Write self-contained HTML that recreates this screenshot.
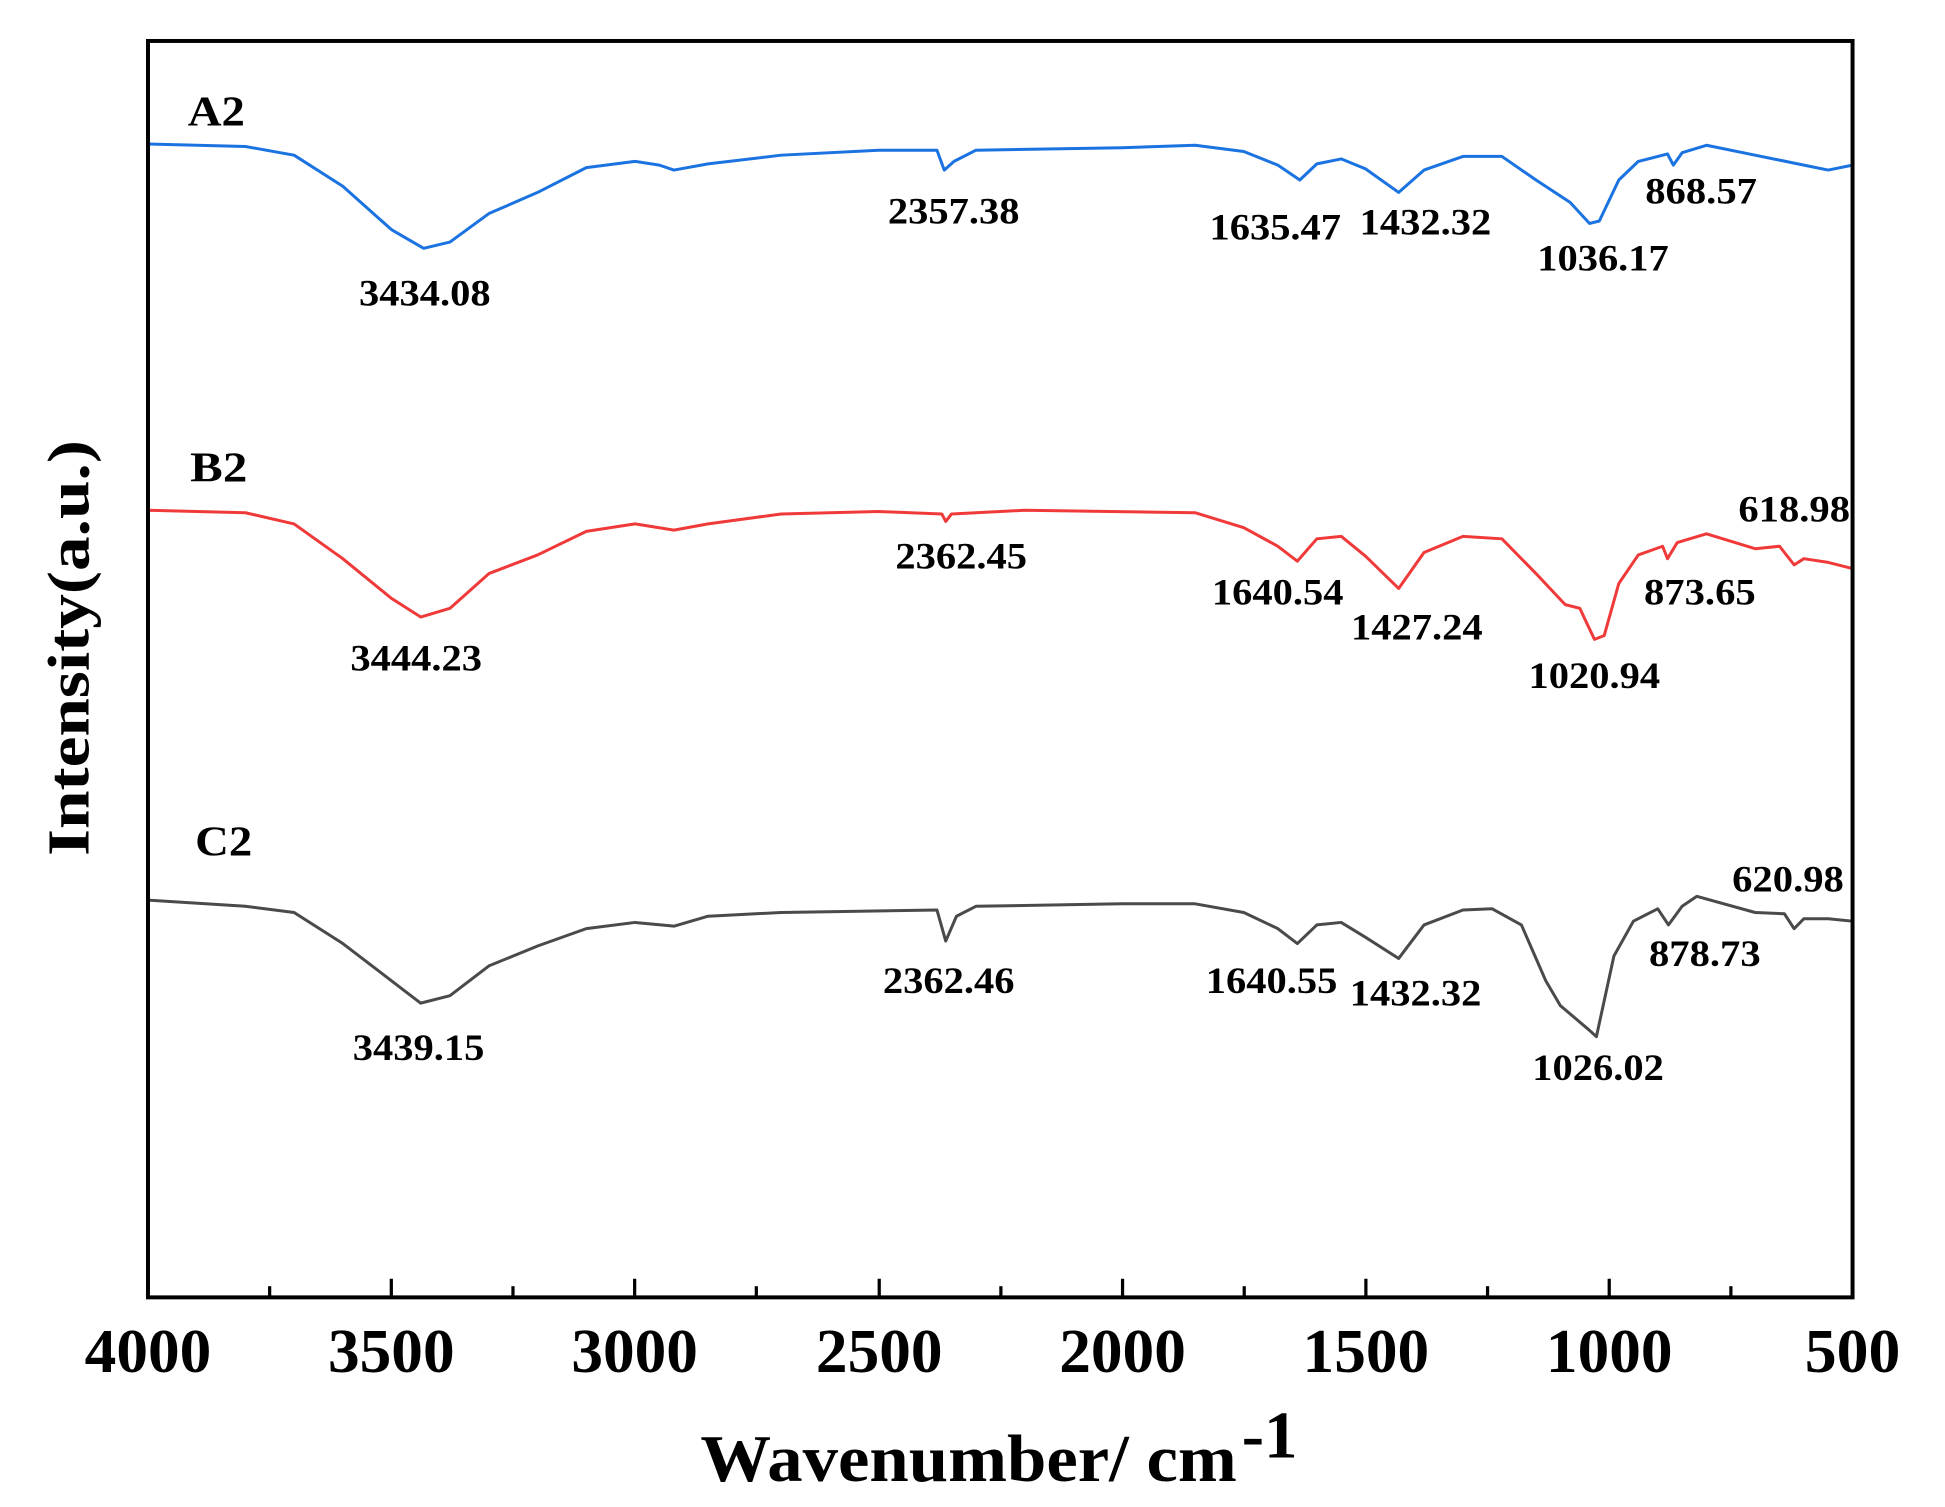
<!DOCTYPE html>
<html><head><meta charset="utf-8"><style>
html,body{margin:0;padding:0;background:#fff;}
svg{display:block;}
text{font-family:"Liberation Serif","Times New Roman",serif;font-weight:bold;fill:#000;}
</style></head><body>
<svg width="1945" height="1507" viewBox="0 0 1945 1507" xmlns="http://www.w3.org/2000/svg">
<g transform="matrix(1.2415 0 0 1.2415 -1 0)">
  <g transform="matrix(-0.39229 0 0 1 1689.16 0)" fill="none" stroke-linejoin="round">
    <polyline vector-effect="non-scaling-stroke" stroke="#1a73e0" stroke-width="3" points="4000,385 4000,116 3800,118 3700,125 3600,150 3500,185 3434,200 3380,195 3300,172 3200,155 3100,135 3000,130 2950,133 2920,137 2850,132 2700,125 2500,121 2380,121 2365,137 2345,130 2300,121 2000,119 1850,117 1750,122 1680,133 1635,145 1600,132 1550,128 1500,136 1432,155 1380,137 1300,126 1220,126 1150,145 1080,163 1040,180 1020,178 980,145 940,130 880,124 868,133 850,123 800,117 700,125 600,133 550,137 500,133"/>
    <polyline vector-effect="non-scaling-stroke" stroke="#f03a3a" stroke-width="3" points="4000,685 4000,411 3800,413 3700,422 3600,450 3500,482 3440,497 3380,490 3300,462 3200,447 3100,428 3000,422 2920,427 2850,422 2700,414 2500,412 2370,414 2362,420 2350,414 2200,411 1850,413 1750,425 1680,440 1640,452 1600,434 1550,432 1500,448 1432,474 1380,445 1300,432 1220,434 1150,462 1090,487 1060,490 1030,515 1010,512 980,470 940,447 890,440 880,450 860,437 800,430 700,442 650,440 620,455 600,450 550,453 500,458"/>
    <polyline vector-effect="non-scaling-stroke" stroke="#4a4a4a" stroke-width="3" points="4000,980 4000,725 3800,730 3700,735 3600,760 3500,790 3440,808 3380,802 3300,778 3200,762 3100,748 3000,743 2920,746 2850,738 2700,735 2380,733 2362,758 2340,738 2300,730 2000,728 1850,728 1750,735 1680,748 1640,760 1600,745 1550,743 1500,755 1432,772 1380,745 1300,733 1240,732 1180,745 1130,790 1100,810 1070,820 1040,830 1026,835 990,770 950,742 900,732 878,745 850,730 820,722 700,735 640,736 620,748 600,740 550,740 500,742"/>
  </g>
  <rect x="120" y="33" width="1373" height="1012" fill="none" stroke="#000" stroke-width="3.2"/>
  <g stroke="#000" stroke-width="2.6">
    <line x1="316" y1="1045" x2="316" y2="1030"/><line x1="512" y1="1045" x2="512" y2="1030"/>
    <line x1="709" y1="1045" x2="709" y2="1030"/><line x1="905" y1="1045" x2="905" y2="1030"/>
    <line x1="1101" y1="1045" x2="1101" y2="1030"/><line x1="1297" y1="1045" x2="1297" y2="1030"/>
    <line x1="218" y1="1045" x2="218" y2="1036"/><line x1="414" y1="1045" x2="414" y2="1036"/>
    <line x1="610" y1="1045" x2="610" y2="1036"/><line x1="807" y1="1045" x2="807" y2="1036"/>
    <line x1="1003" y1="1045" x2="1003" y2="1036"/><line x1="1199" y1="1045" x2="1199" y2="1036"/>
    <line x1="1395" y1="1045" x2="1395" y2="1036"/>
  </g>
  <g font-size="50" text-anchor="middle">
    <text x="120" y="1105" textLength="102" lengthAdjust="spacingAndGlyphs">4000</text>
    <text x="316" y="1105" textLength="102" lengthAdjust="spacingAndGlyphs">3500</text>
    <text x="512" y="1105" textLength="102" lengthAdjust="spacingAndGlyphs">3000</text>
    <text x="709" y="1105" textLength="102" lengthAdjust="spacingAndGlyphs">2500</text>
    <text x="905" y="1105" textLength="102" lengthAdjust="spacingAndGlyphs">2000</text>
    <text x="1101" y="1105" textLength="102" lengthAdjust="spacingAndGlyphs">1500</text>
    <text x="1297" y="1105" textLength="102" lengthAdjust="spacingAndGlyphs">1000</text>
    <text x="1493" y="1105" textLength="77" lengthAdjust="spacingAndGlyphs">500</text>
  </g>
  <text x="565" y="1193" font-size="54" textLength="432" lengthAdjust="spacingAndGlyphs">Wavenumber/ cm</text>
  <text x="1001" y="1174" font-size="54">-1</text>
  <text transform="translate(72,522) rotate(-90)" text-anchor="middle" font-size="48" textLength="335" lengthAdjust="spacingAndGlyphs">Intensity(a.u.)</text>
  <g font-size="34">
    <text x="152" y="101" textLength="46" lengthAdjust="spacingAndGlyphs">A2</text>
    <text x="154" y="388" textLength="46" lengthAdjust="spacingAndGlyphs">B2</text>
    <text x="158" y="689" textLength="46" lengthAdjust="spacingAndGlyphs">C2</text>
  </g>
  <g font-size="30" text-anchor="middle">
    <text x="343" y="246" textLength="106" lengthAdjust="spacingAndGlyphs">3434.08</text>
    <text x="769" y="180" textLength="106" lengthAdjust="spacingAndGlyphs">2357.38</text>
    <text x="1028" y="193" textLength="106" lengthAdjust="spacingAndGlyphs">1635.47</text>
    <text x="1149" y="189" textLength="106" lengthAdjust="spacingAndGlyphs">1432.32</text>
    <text x="1292" y="218" textLength="106" lengthAdjust="spacingAndGlyphs">1036.17</text>
    <text x="1371" y="164" textLength="90" lengthAdjust="spacingAndGlyphs">868.57</text>
    <text x="336" y="540" textLength="106" lengthAdjust="spacingAndGlyphs">3444.23</text>
    <text x="775" y="458" textLength="106" lengthAdjust="spacingAndGlyphs">2362.45</text>
    <text x="1030" y="487" textLength="106" lengthAdjust="spacingAndGlyphs">1640.54</text>
    <text x="1142" y="515" textLength="106" lengthAdjust="spacingAndGlyphs">1427.24</text>
    <text x="1285" y="554" textLength="106" lengthAdjust="spacingAndGlyphs">1020.94</text>
    <text x="1370" y="487" textLength="90" lengthAdjust="spacingAndGlyphs">873.65</text>
    <text x="1446" y="420" textLength="90" lengthAdjust="spacingAndGlyphs">618.98</text>
    <text x="338" y="854" textLength="106" lengthAdjust="spacingAndGlyphs">3439.15</text>
    <text x="765" y="800" textLength="106" lengthAdjust="spacingAndGlyphs">2362.46</text>
    <text x="1025" y="800" textLength="106" lengthAdjust="spacingAndGlyphs">1640.55</text>
    <text x="1141" y="810" textLength="106" lengthAdjust="spacingAndGlyphs">1432.32</text>
    <text x="1288" y="870" textLength="106" lengthAdjust="spacingAndGlyphs">1026.02</text>
    <text x="1374" y="778" textLength="90" lengthAdjust="spacingAndGlyphs">878.73</text>
    <text x="1441" y="718" textLength="90" lengthAdjust="spacingAndGlyphs">620.98</text>
  </g>
</g>
</svg>
</body></html>
